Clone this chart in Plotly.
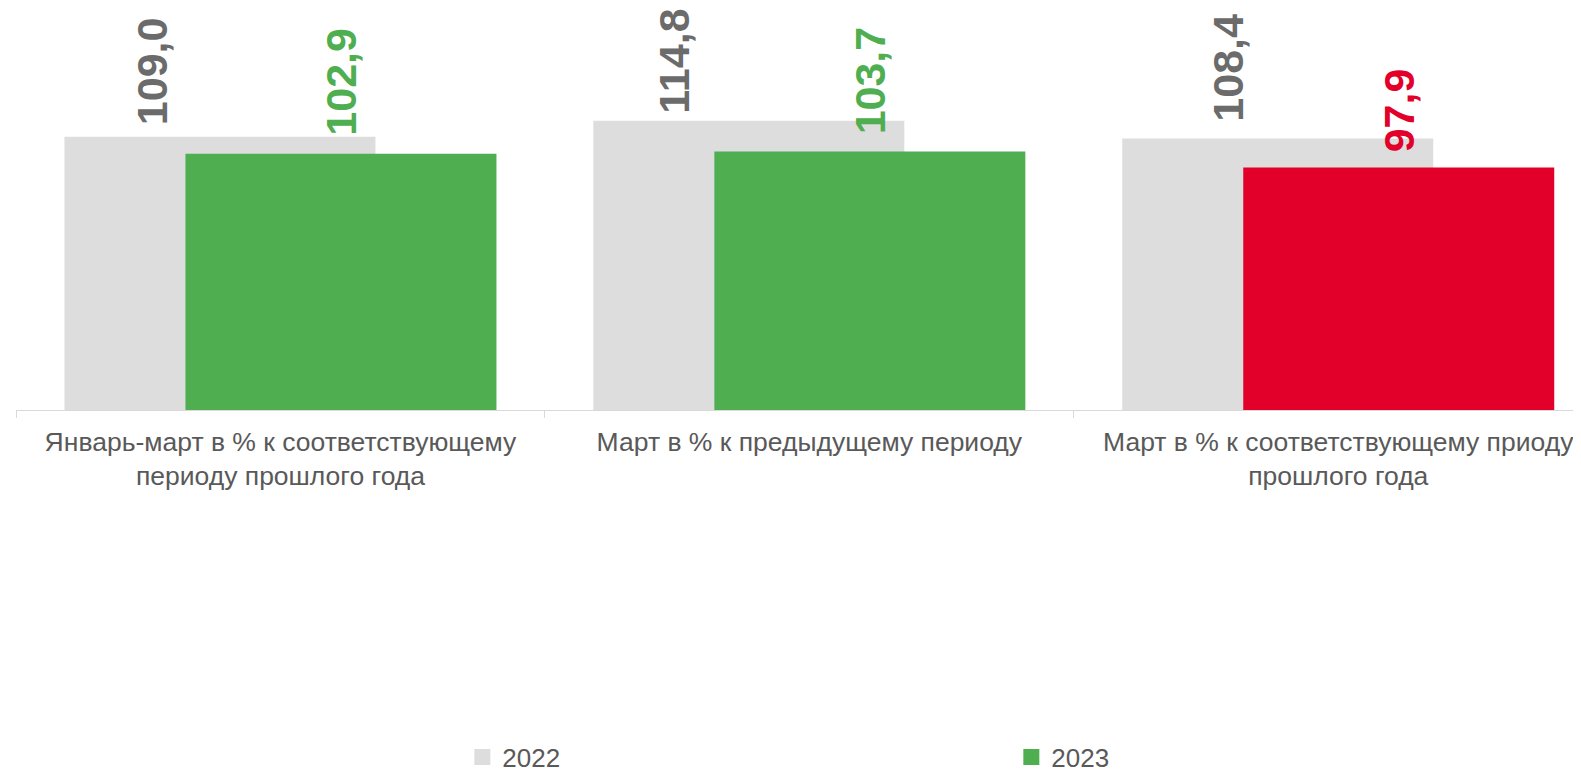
import plotly.graph_objects as go

# ---- data ----
categories = [
    "Январь-март в % к соответствующему периоду прошлого года",
    "Март в % к предыдущему периоду",
    "Март в % к соответствующему приоду прошлого года",
]
tick_labels = [
    "Январь-март в % к соответствующему<br>периоду прошлого года",
    "Март в % к предыдущему периоду",
    "Март в % к соответствующему приоду<br>прошлого года",
]
series_names = ["2022", "2023"]
values_2022 = [109.0, 114.8, 108.4]
values_2023 = [102.9, 103.7, 97.9]
colors_2023 = ["#4fae50", "#4fae50", "#e2002b"]

# ---- style ----
GRAY_BAR = "#dddddd"
GRAY_TEXT = "#6b6b6b"
AXIS_TEXT = "#595959"
LEGEND_GREEN = "#4fae50"
FONT = "Liberation Sans, Arial, sans-serif"
BAR_W = 0.588
SHIFT = 0.1144
# label placement offsets (category units) and gaps (px)
gray_label_dx = [-0.244, -0.255, -0.208]
gray_label_gap = [10, 5, 15]
new_label_gap = [16, 15, 13]


def fmt(v):
    return f"{v:.1f}".replace(".", ",")


fig = go.Figure()
fig.add_trace(go.Bar(
    name=series_names[0], x=categories, y=values_2022,
    marker=dict(color=GRAY_BAR, line=dict(width=0)),
    width=BAR_W, offset=-SHIFT - BAR_W / 2, showlegend=False,
))
fig.add_trace(go.Bar(
    name=series_names[1], x=categories, y=values_2023,
    marker=dict(color=colors_2023, line=dict(width=0)),
    width=BAR_W, offset=SHIFT - BAR_W / 2, showlegend=False,
))
# legend entries with larger square swatches
for name, col in zip(series_names, [GRAY_BAR, LEGEND_GREEN]):
    fig.add_trace(go.Scatter(
        name=name, x=[None], y=[None], mode="markers",
        marker=dict(symbol="square", size=16, color=col, line=dict(width=0)),
        showlegend=True,
    ))

annotations = []
for i, v in enumerate(values_2022):
    annotations.append(dict(
        x=i + gray_label_dx[i], y=v, xref="x", yref="y",
        text=f"<b>{fmt(v)}</b>", textangle=-90, showarrow=False,
        xanchor="center", yanchor="bottom", yshift=gray_label_gap[i],
        font=dict(family=FONT, size=43, color=GRAY_TEXT),
    ))
for i, v in enumerate(values_2023):
    annotations.append(dict(
        x=i + SHIFT, y=v, xref="x", yref="y",
        text=f"<b>{fmt(v)}</b>", textangle=-90, showarrow=False,
        xanchor="center", yanchor="bottom", yshift=new_label_gap[i],
        font=dict(family=FONT, size=43, color=colors_2023[i]),
    ))

fig.update_layout(
    width=1573, height=790,
    margin=dict(l=7.5, r=0, t=12, b=387.5, pad=0),
    paper_bgcolor="white", plot_bgcolor="white",
    barmode="overlay",
    font=dict(family=FONT, color=AXIS_TEXT),
    annotations=annotations,
    showlegend=True,
    legend=dict(
        orientation="h", x=0.2852, xanchor="left", y=-0.8899, yanchor="middle",
        entrywidth=504, entrywidthmode="pixels",
        font=dict(family=FONT, size=26, color=AXIS_TEXT),
        bgcolor="rgba(0,0,0,0)",
    ),
    xaxis=dict(
        type="category", range=[-0.5, 2.459],
        tickvals=categories, ticktext=tick_labels,
        tickson="boundaries", ticks="outside", ticklen=7, tickcolor="#d9d9d9",
        ticklabelstandoff=8,
        showline=True, linecolor="#d9d9d9", linewidth=1,
        showgrid=False, zeroline=False,
        tickfont=dict(family=FONT, size=26.5, color=AXIS_TEXT),
    ),
    yaxis=dict(
        range=[10.6, 151.07], visible=False, showgrid=False, zeroline=False,
    ),
)

fig.write_html("out.html")
